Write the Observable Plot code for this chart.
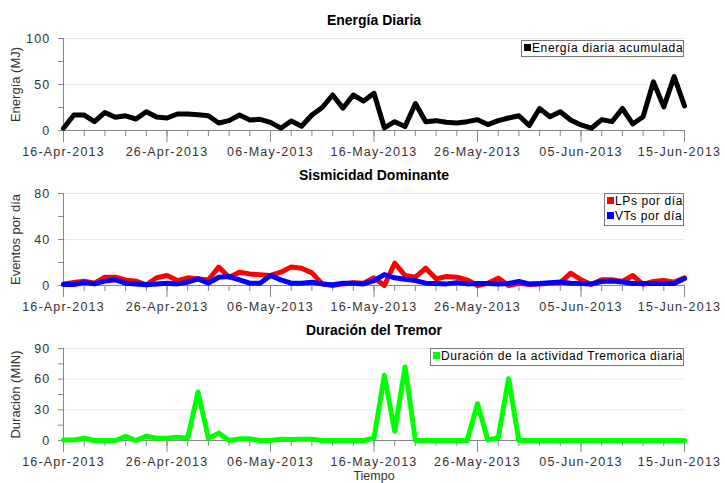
<!DOCTYPE html>
<html><head><meta charset="utf-8">
<script src="https://cdn.jsdelivr.net/npm/d3@7"></script>
<script src="https://cdn.jsdelivr.net/npm/@observablehq/plot@0.6"></script>
<style>
body{margin:0;background:#fff;}
#chart{position:relative;width:725px;height:483px;overflow:hidden;font-family:"Liberation Sans",Arial,sans-serif;background:#fff;}
#chart svg{display:block;overflow:visible;}
.leg{position:absolute;box-sizing:border-box;border:1px solid #777;background:#fff;font-size:12px;letter-spacing:0.6px;color:#000;line-height:15px;padding:0 0 0 2px;white-space:nowrap;}
.sw{display:inline-block;width:7px;height:7px;margin-right:1px;vertical-align:1px;}
</style></head><body><div id="chart"></div>
<script>
const fechaInicio = "2013-04-16";
const fechaFin = "2013-06-15";
const ticksFechas = ["2013-04-16","2013-04-26","2013-05-06","2013-05-16","2013-05-26","2013-06-05","2013-06-15"];

const energia = [2.5,16.8,16.8,9.6,19.6,14.3,16,12.5,20.4,14.6,13.6,17.9,17.9,17.1,16,8.2,10.7,16.8,11.4,12.1,8.9,2.5,10.4,4.6,16.8,25,38.6,24.3,38.6,32,40.4,2.9,9.6,4.3,29.3,9.6,10.7,8.9,8.2,9.6,11.8,6.4,10.7,13.6,16,5.4,23.9,15,20.4,11.4,6.1,2.5,11.8,9.6,23.9,7.1,15,52.9,25.7,58.6,26.8];
const lps = [1.4,2.6,3.8,2,7.2,7.2,4.9,3.8,0.6,6.7,8.7,4.3,6.7,5.8,4.9,16,7.2,11.6,10.1,9.3,8.7,11.6,16,15,11,1.4,0,1.4,2.3,2,6.7,0,19.4,8.7,7.2,15,5.8,7.8,7.2,4.9,0,2,6.4,0,2,0.9,1.4,2,2.3,10.7,5,0.9,5,5,3.5,8.7,0.9,3.5,4.3,2.9,6.7];
const vts = [0.9,0.9,2.6,1.4,3.8,4.9,2,1.4,0.6,1.4,2,1.4,2.9,5.8,2,7.2,7.8,4.9,2,2,8.7,4.9,2,2,2.9,1.4,0.6,2,2,1.4,4.3,9.5,6.7,5.5,4.3,2,1.7,1.4,2.5,1.4,1.7,1.7,1.4,1.7,3.5,1.4,1.7,2.5,3,2,1.7,1.4,3.5,4,3,1.7,1.7,1.7,1.7,1.7,6];
const tremor = [0.5,0.5,2.3,0,0,0,4,0,4.2,2.3,2.3,3.3,2.3,47.4,2.3,7.2,0,1.6,1.6,0,0,1.3,1,1.3,1.3,0,0,0,0,0,2.3,63.7,9,71.9,0,0,0,0,0,0,36,0.5,2.6,60.5,0,0,0,0,0,0,0,0,0,0,0,0,0,0,0,0,0];

const titulos = ["Energía Diaria","Sismicidad Dominante","Duración del Tremor"];
const etiquetasY = ["Energía (MJ)","Eventos por día","Duración (MIN)"];
const etiquetaX = "Tiempo";
const leyenda1 = ["Energía diaria acumulada"];
const leyenda2 = ["LPs por día","VTs por día"];
const leyenda3 = ["Duración de la actividad Tremorica diaria"];

const dias = d3.utcDay.range(new Date(fechaInicio), d3.utcDay.offset(new Date(fechaFin), 1));
const diasMenores = dias.filter((d, i) => i % 2 === 0);
const diasMayores = ticksFechas.map(s => new Date(s));
const fmt = d3.utcFormat("%d-%b-%Y");

function panel({ymax, major, minor, series, title, ylabel, height, marginBottom, xlabel}) {
  const marks = [
    Plot.gridY(major.filter(v => v > 0), {stroke: "#e8e8e8", strokeOpacity: 1}),
    Plot.ruleY([0], {stroke: "#888"}),
    Plot.ruleX([dias[0]], {stroke: "#888"}),
    Plot.axisX({ticks: diasMenores, tickSize: 6, tickFormat: () => "", stroke: "#888", label: null}),
    Plot.axisX({ticks: diasMayores, tickSize: 12, tickPadding: 5, tickFormat: fmt, stroke: "#888", fill: "#333", label: null}),
    Plot.axisY({ticks: major, tickSize: 5, tickPadding: 8, stroke: "#888", fill: "#333", label: null}),
    Plot.axisY({ticks: minor, tickSize: 5, tickFormat: () => "", stroke: "#888", label: null}),
    ...series.map(s => Plot.line(dias.map((d, i) => ({fecha: d, valor: s.values[i]})), {x: "fecha", y: "valor", stroke: s.color, strokeWidth: 5})),
    Plot.text([title], {frameAnchor: "top", dy: -18, lineAnchor: "middle", fontWeight: "bold", fontSize: 14, fill: "#000", ariaLabel: "titulo"}),
    Plot.text([ylabel], {frameAnchor: "left", dx: -48, rotate: -90, textAnchor: "middle", lineAnchor: "middle", fontSize: 13, fill: "#333", ariaLabel: "ylab"})
  ];
  if (xlabel) marks.push(Plot.text([xlabel], {frameAnchor: "bottom", dy: 35, lineAnchor: "middle", fontSize: 12.5, fill: "#333", ariaLabel: "xlab"}));
  const svg = Plot.plot({
    width: 725, height, marginTop: 38, marginBottom, marginLeft: 63, marginRight: 41,
    style: {fontFamily: '"Liberation Sans", Arial, sans-serif', fontSize: "12.5px", background: "none", overflow: "visible"},
    x: {type: "utc", domain: [dias[0], dias[dias.length - 1]]},
    y: {domain: [0, ymax]},
    marks
  });
  const s = d3.select(svg);
  s.selectAll('g[aria-label="x-axis tick label"] text, g[aria-label="y-axis tick label"] text, g[aria-label="xlab"] text').style("letter-spacing", "1.2px");
  s.selectAll('g[aria-label="x-axis tick label"] text').filter(function () { return this.textContent === fmt(diasMayores[diasMayores.length - 1]); }).attr("dx", -5);
  s.selectAll('g[aria-label="titulo"] text').style("letter-spacing", "1.4px");
  return svg;
}

const chart = document.getElementById("chart");
chart.appendChild(panel({ymax: 100, major: [0, 50, 100], minor: [25, 75], series: [{values: energia, color: "#000"}], title: titulos[0], ylabel: etiquetasY[0], height: 155, marginBottom: 25}));
chart.appendChild(panel({ymax: 80, major: [0, 40, 80], minor: [20, 60], series: [{values: lps, color: "#ff0000"}, {values: vts, color: "#0000ff"}], title: titulos[1], ylabel: etiquetasY[1], height: 155, marginBottom: 25}));
chart.appendChild(panel({ymax: 90, major: [0, 30, 60, 90], minor: [15, 45, 75], series: [{values: tremor, color: "#00ff00"}], title: titulos[2], ylabel: etiquetasY[2], height: 173, marginBottom: 43, xlabel: etiquetaX}));

function leyenda(items, colors, left, top, width, height) {
  const div = document.createElement("div");
  div.className = "leg";
  Object.assign(div.style, {left: left + "px", top: top + "px", width: width + "px", height: height + "px"});
  items.forEach((t, i) => {
    const row = document.createElement("div");
    const sw = document.createElement("span");
    sw.className = "sw"; sw.style.background = colors[i];
    row.appendChild(sw);
    row.appendChild(document.createTextNode(t));
    div.appendChild(row);
  });
  chart.appendChild(div);
}
leyenda(leyenda1, ["#000"], 521, 40, 163, 17);
leyenda(leyenda2, ["#ff0000", "#0000ff"], 604, 193, 80, 33);
leyenda(leyenda3, ["#00ff00"], 430, 348, 254, 18);
</script>
</body></html>
